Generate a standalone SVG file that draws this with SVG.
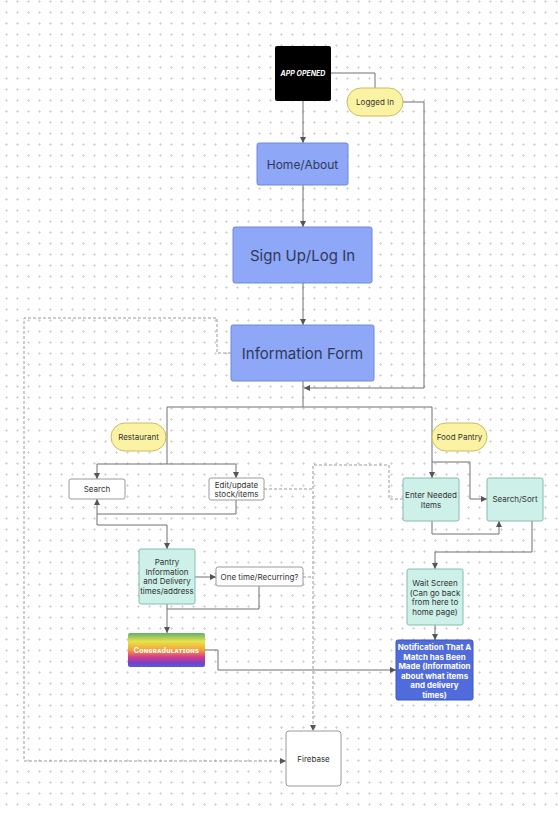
<svg xmlns="http://www.w3.org/2000/svg" width="558" height="813" viewBox="0 0 558 813">
<defs>
<pattern id="dots" x="5" y="0" width="11" height="11" patternUnits="userSpaceOnUse">
<path d="M0,1.5 H3 M1.5,0 V3" stroke="#d2d2d2" stroke-width="0.8"/>
</pattern>
<marker id="arr" viewBox="0 0 6 6" refX="6" refY="3" markerWidth="6" markerHeight="6" markerUnits="userSpaceOnUse" orient="auto">
<path d="M0,0 L6,3 L0,6 z" fill="#555"/>
</marker>
<linearGradient id="rainbow" x1="0" y1="0" x2="0" y2="1">
<stop offset="0" stop-color="#5fb26a"/>
<stop offset="0.25" stop-color="#e9e24a"/>
<stop offset="0.5" stop-color="#f3a13b"/>
<stop offset="0.7" stop-color="#d63c8a"/>
<stop offset="0.88" stop-color="#7a3fc9"/>
<stop offset="1" stop-color="#4a63d8"/>
</linearGradient>
<style>
.t{font-family:Inter,"Liberation Sans",sans-serif;text-anchor:middle;dominant-baseline:central;fill:#333}
.s8{font-size:8px}
.blue rect{fill:#8ea7f6;stroke:#6f89dc;stroke-width:1}
.blue text{fill:#2f3a5a}
.pill rect{fill:#fbf3a3;stroke:#c9bd62;stroke-width:1}
.teal rect{fill:#cdf0e8;stroke:#86bcae;stroke-width:1}
.white rect{fill:#fff;stroke:#9a9a9a;stroke-width:1}
.c{fill:none;stroke:#707070;stroke-width:1;stroke-linejoin:round}
.d{fill:none;stroke:#9a9a9a;stroke-width:1;stroke-dasharray:3 2}
</style>
</defs>
<rect width="558" height="813" fill="#fff"/>
<rect width="558" height="813" fill="url(#dots)"/>

<g id="connectors">
<path class="c" d="M303,101 V143" marker-end="url(#arr)"/>
<path class="c" d="M331,73 H375 V88"/>
<path class="c" d="M403,102 H424 V388 H304" marker-end="url(#arr)"/>
<path class="c" d="M303,185 V227" marker-end="url(#arr)"/>
<path class="c" d="M303,283 V325" marker-end="url(#arr)"/>
<path class="c" d="M303,381 V407"/>
<path class="c" d="M303,407 H167 V464"/>
<path class="c" d="M303,407 H432 V478" marker-end="url(#arr)"/>
<path class="c" d="M167,464 H97 V479" marker-end="url(#arr)"/>
<path class="c" d="M167,464 H236 V478" marker-end="url(#arr)"/>
<path class="c" d="M236,500 V514 H97 V499" marker-end="url(#arr)"/>
<path class="c" d="M97,514 V525 H167 V549" marker-end="url(#arr)"/>
<path class="c" d="M432,462 H470 V499 H487" marker-end="url(#arr)"/>
<path class="c" d="M432,521 V534 H499 V521" marker-end="url(#arr)"/>
<path class="c" d="M532,521 V552 H435 V569" marker-end="url(#arr)"/>
<path class="c" d="M435,625 V640" marker-end="url(#arr)"/>
<path class="c" d="M195,577 H216" marker-end="url(#arr)"/>
<path class="c" d="M167,604 V633" marker-end="url(#arr)"/>
<path class="c" d="M259,586 V609 H167"/>
<path class="c" d="M205,650 H218 V670 H396" marker-end="url(#arr)"/>
<path class="d" d="M231,353 H217 V318 H24 V761 H286" marker-end="url(#arr)"/>
<path class="d" d="M403,499 H389 V465 H313 V731" marker-end="url(#arr)"/>
<path class="d" d="M264,489 H313"/>
<path class="d" d="M303,577 H313"/>
</g>

<g id="app-opened">
<rect x="275" y="46" width="56" height="55" rx="2" fill="#000"/>
<text class="t" x="303" y="73" style="font-size:7px;fill:#fff;font-style:italic;font-weight:bold">APP OPENED</text>
</g>
<g id="logged-in" class="pill">
<rect x="347" y="88" width="56" height="28" rx="14"/>
<text class="t s8" x="375" y="102">Logged In</text>
</g>
<g id="home-about" class="blue">
<rect x="257" y="143" width="91" height="42" rx="2"/>
<text class="t" x="302.5" y="164" style="font-size:12px">Home/About</text>
</g>
<g id="signup-login" class="blue">
<rect x="233" y="227" width="139" height="56" rx="2"/>
<text class="t" x="302.5" y="255" style="font-size:15px">Sign Up/Log In</text>
</g>
<g id="information-form" class="blue">
<rect x="231" y="325" width="143" height="56" rx="2"/>
<text class="t" x="302.5" y="353" style="font-size:15px">Information Form</text>
</g>
<g id="restaurant" class="pill">
<rect x="111" y="423" width="55" height="28" rx="14"/>
<text class="t s8" x="138.5" y="437">Restaurant</text>
</g>
<g id="food-pantry" class="pill">
<rect x="432" y="423" width="55" height="28" rx="14"/>
<text class="t s8" x="459.5" y="437">Food Pantry</text>
</g>
<g id="search" class="white">
<rect x="69" y="479" width="56" height="20" rx="2"/>
<text class="t s8" x="97" y="489">Search</text>
</g>
<g id="edit-update" class="white">
<rect x="209" y="478" width="55" height="22" rx="2"/>
<text class="t s8" x="236.5" y="484.5">Edit/update</text>
<text class="t s8" x="236.5" y="494">stock/items</text>
</g>
<g id="enter-needed-items" class="teal">
<rect x="403" y="478" width="56" height="43" rx="2"/>
<text class="t s8" x="431" y="495">Enter Needed</text>
<text class="t s8" x="431" y="505">Items</text>
</g>
<g id="search-sort" class="teal">
<rect x="487" y="478" width="56" height="43" rx="2"/>
<text class="t s8" x="515" y="499">Search/Sort</text>
</g>
<g id="pantry-information" class="teal">
<rect x="139" y="549" width="56" height="55" rx="2"/>
<text class="t s8" x="167" y="562">Pantry</text>
<text class="t s8" x="167" y="572">Information</text>
<text class="t s8" x="167" y="581">and Delivery</text>
<text class="t s8" x="167" y="591">times/address</text>
</g>
<g id="one-time-recurring" class="white">
<rect x="216" y="567" width="87" height="19" rx="2"/>
<text class="t s8" x="259.5" y="577">One time/Recurring?</text>
</g>
<g id="congratulations">
<rect x="128" y="633" width="77" height="34" rx="2" fill="url(#rainbow)"/>
<text class="t" x="166.5" y="650" style="font-size:7px;fill:#fff;font-weight:bold;font-variant:small-caps;letter-spacing:0.3px">Congradulations</text>
</g>
<g id="wait-screen" class="teal">
<rect x="407" y="569" width="56" height="56" rx="2"/>
<text class="t s8" x="435" y="583">Wait Screen</text>
<text class="t s8" x="435" y="593">(Can go back</text>
<text class="t s8" x="435" y="602">from here to</text>
<text class="t s8" x="435" y="612">home page)</text>
</g>
<g id="notification">
<rect x="396" y="640" width="77" height="60" rx="2" fill="#4f6bdc" stroke="#3d57c4"/>
<text class="t s8" x="434.5" y="647" style="fill:#fff;font-weight:bold">Notification That A</text>
<text class="t s8" x="434.5" y="657" style="fill:#fff;font-weight:bold">Match has Been</text>
<text class="t s8" x="434.5" y="666" style="fill:#fff;font-weight:bold">Made (Information</text>
<text class="t s8" x="434.5" y="676" style="fill:#fff;font-weight:bold">about what items</text>
<text class="t s8" x="434.5" y="685" style="fill:#fff;font-weight:bold">and delivery</text>
<text class="t s8" x="434.5" y="695" style="fill:#fff;font-weight:bold">times)</text>
</g>
<g id="firebase" class="white">
<rect x="286" y="731" width="55" height="55" rx="3"/>
<text class="t s8" x="313.5" y="759">Firebase</text>
</g>
</svg>
